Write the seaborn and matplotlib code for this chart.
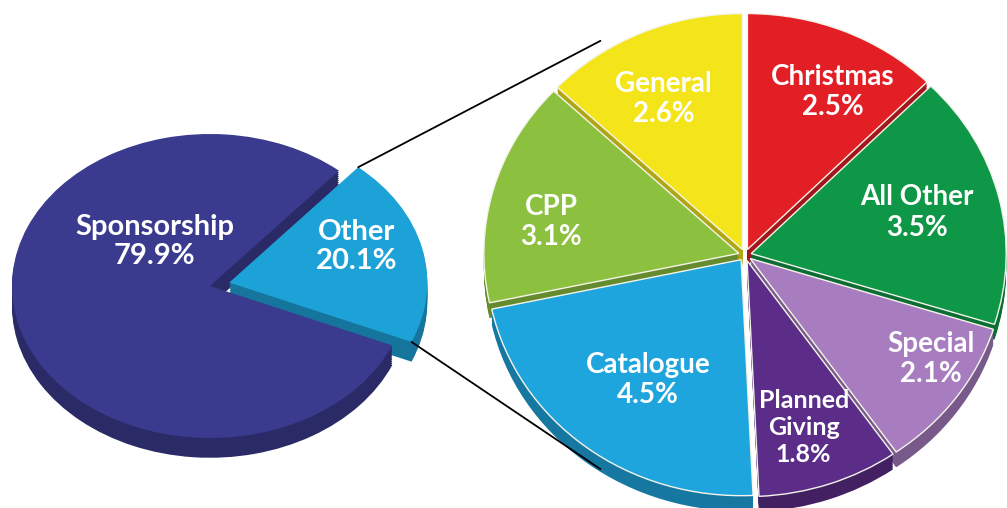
import numpy as np
import matplotlib.pyplot as plt
import seaborn as sns
from matplotlib.patches import ConnectionPatch
from matplotlib.colors import to_rgb

sns.set_theme(style="white")
plt.rcParams['font.family'] = ['Lato', 'DejaVu Sans']

# main split
main_labels = ["Sponsorship", "Other"]
main_values = [79.9, 20.1]
main_colors = ["#3a3b8e", "#1da2d8"]

# breakdown of "Other"
sub_labels = ["Christmas", "All Other", "Special", "Planned\nGiving", "Catalogue", "CPP", "General"]
sub_values = [2.5, 3.5, 2.1, 1.8, 4.5, 3.1, 2.6]
sub_colors = ["#e31f26", "#0f9748", "#a77dc0", "#5c2d88", "#1fa5de", "#8cc13f", "#f4e51b"]

W, H = 1007, 508
fig = plt.figure(figsize=(W / 100, H / 100), dpi=100)
fig.patch.set_facecolor("white")


def darker(c, f=0.72):
    r, g, b = to_rgb(c)
    return (r * f, g * f, b * f)


def pie_axes(cx, cy, ux, uy, xlim, ylim):
    # axes placed in pixels so one data unit = ux / uy pixels (gives the tilted look)
    left = cx + xlim[0] * ux
    right = cx + xlim[1] * ux
    top = cy - ylim[1] * uy
    bottom = cy - ylim[0] * uy
    ax = fig.add_axes([left / W, 1 - bottom / H, (right - left) / W, (bottom - top) / H])
    return ax


def solid_pie(ax, values, colors, explode, start, depth, edge, lw, steps=10):
    # side of the "3D" pie: stacked darker copies, then the top face
    for d in np.linspace(depth, 0, steps, endpoint=False):
        ax.pie(values, colors=[darker(c) for c in colors], explode=explode,
               startangle=start, counterclock=False, center=(0, -d),
               wedgeprops=dict(linewidth=0.6, edgecolor="none"))
    wedges, _ = ax.pie(values, colors=colors, explode=explode,
                       startangle=start, counterclock=False,
                       wedgeprops=dict(linewidth=lw, edgecolor=edge))
    return wedges


# left pie
xl, yl = (-1.1, 1.4), (-1.4, 1.15)
axL = pie_axes(210, 286, 198, 152, xl, yl)
wL = solid_pie(axL, main_values, main_colors, [0, 0.1], -23, 0.13, "none", 0)
axL.set_aspect("auto")
axL.set_xlim(xl)
axL.set_ylim(yl)
axL.axis("off")

left_text_pos = [(-0.28, 0.29), (0.74, 0.26)]
for lab, val, (x, y) in zip(main_labels, main_values, left_text_pos):
    axL.text(x, y, f"{lab}\n{val}%", ha="center", va="center", color="white",
             fontsize=21, fontweight="bold", linespacing=1.15)

# right pie
xr, yr = (-1.2, 1.2), (-1.2, 1.2)
axR = pie_axes(745, 255, 255, 236, xr, yr)
wR = solid_pie(axR, sub_values, sub_colors, [0.025] * len(sub_values), 90, 0.065,
               "#f4f4ea", 1.0)
axR.set_aspect("auto")
axR.set_xlim(xr)
axR.set_ylim(yr)
axR.axis("off")

right_text_pos = [(0.345, 0.69), (0.675, 0.18), (0.73, -0.44), (0.23, -0.73),
                  (-0.38, -0.53), (-0.76, 0.14), (-0.32, 0.66)]
for lab, val, (x, y) in zip(sub_labels, sub_values, right_text_pos):
    small = "\n" in lab
    axR.text(x, y, f"{lab}\n{val}%", ha="center", va="center", color="white",
             fontsize=18 if small else 20, fontweight="bold",
             linespacing=1.2)

# connector lines from the "Other" wedge to the breakdown pie
other = wL[1]
ocx, ocy = other.center
corners = []
for t in (other.theta2, other.theta1):
    corners.append((ocx + other.r * np.cos(np.radians(t)), ocy + other.r * np.sin(np.radians(t))))
for (x0, y0), ang in zip(corners, (122, -122)):
    xb = 1.07 * np.cos(np.radians(ang))
    yb = 1.07 * np.sin(np.radians(ang))
    con = ConnectionPatch(xyA=(x0, y0), coordsA=axL.transData, xyB=(xb, yb),
                          coordsB=axR.transData, color="black", linewidth=1.3)
    fig.add_artist(con)

fig.savefig("out.png", dpi=100, facecolor="white")
